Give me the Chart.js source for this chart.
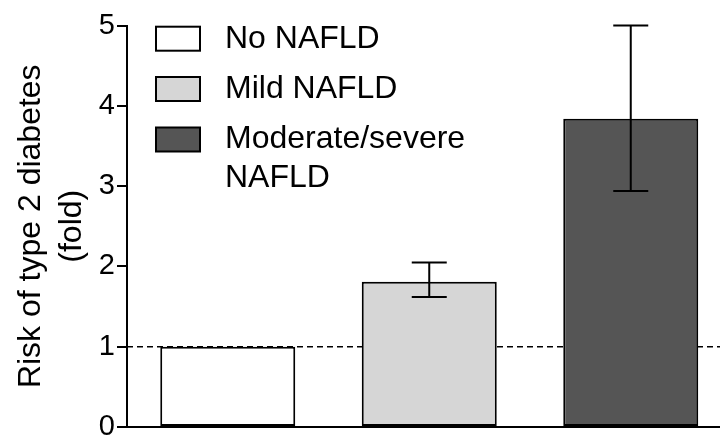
<!DOCTYPE html>
<html lang="en">
<head>
  <meta charset="UTF-8">
  <title>NAFLD and type 2 diabetes risk</title>
  <script src="https://cdn.jsdelivr.net/npm/chart.js"></script>
  <style>
    html, body { margin: 0; padding: 0; background: #fff; overflow: hidden; }
    #wrap { position: absolute; left: 0; top: 0; width: 760px; height: 470px; }
  </style>
</head>
<body>
  <div id="wrap">
    <canvas id="riskChart" width="760" height="470"></canvas>
  </div>

  <script>
    // data
    const groups = ['No NAFLD', 'Mild NAFLD', ['Moderate/severe', 'NAFLD']];
    const risk = [1.0, 1.81, 3.84];
    const errLow = [null, 1.62, 2.94];
    const errHigh = [null, 2.05, 5.0];
    const yTicks = [0, 1, 2, 3, 4, 5];
    const refLine = 1;

    const fills = ['#ffffff', '#d6d6d6', '#555555'];
    const FONT = '"Liberation Sans", Arial, sans-serif';

    // dashed reference line at 1, behind the bars
    const refLinePlugin = {
      id: 'refLine',
      beforeDatasetsDraw(chart) {
        const { ctx, chartArea, scales } = chart;
        const y = scales.y.getPixelForValue(refLine);
        ctx.save();
        ctx.strokeStyle = '#000';
        ctx.lineWidth = 1.6;
        ctx.setLineDash([6, 4]);
        ctx.beginPath();
        ctx.moveTo(chartArea.left, y);
        ctx.lineTo(chartArea.right, y);
        ctx.stroke();
        ctx.restore();
      }
    };

    // error bars with caps
    const errorBarPlugin = {
      id: 'errorBars',
      afterDatasetsDraw(chart) {
        const { ctx, scales } = chart;
        const meta = chart.getDatasetMeta(0);
        ctx.save();
        ctx.strokeStyle = '#000';
        ctx.lineWidth = 2;
        meta.data.forEach((bar, i) => {
          if (errLow[i] == null) return;
          const x = bar.x;
          const yLo = scales.y.getPixelForValue(errLow[i]);
          const yHi = scales.y.getPixelForValue(errHigh[i]);
          ctx.beginPath();
          ctx.moveTo(x, yLo); ctx.lineTo(x, yHi);
          ctx.moveTo(x - 17.5, yHi); ctx.lineTo(x + 17.5, yHi);
          ctx.moveTo(x - 17.5, yLo); ctx.lineTo(x + 17.5, yLo);
          ctx.stroke();
        });
        ctx.restore();
      }
    };

    // legend inside the plot, top left
    const legendPlugin = {
      id: 'insideLegend',
      afterDraw(chart) {
        const { ctx } = chart;
        const rows = [38.7, 89, 139.5];
        ctx.save();
        ctx.font = '32px ' + FONT;
        ctx.textBaseline = 'middle';
        groups.forEach((g, i) => {
          const y = rows[i];
          ctx.fillStyle = fills[i];
          ctx.fillRect(156, y - 12, 44, 24);
          ctx.strokeStyle = '#000';
          ctx.lineWidth = 2;
          ctx.strokeRect(156, y - 12, 44, 24);
          ctx.fillStyle = '#000';
          const lines = Array.isArray(g) ? g : [g];
          lines.forEach((t, k) => ctx.fillText(t, 225, y + k * 38.5));
        });
        ctx.restore();
      }
    };

    new Chart(document.getElementById('riskChart'), {
      type: 'bar',
      data: {
        labels: groups.map(g => Array.isArray(g) ? g.join(' ') : g),
        datasets: [{
          data: risk,
          backgroundColor: fills,
          borderColor: '#000',
          borderWidth: 2,
          borderSkipped: false,
          categoryPercentage: 1,
          barPercentage: 0.67
        }]
      },
      options: {
        responsive: false,
        animation: false,
        layout: { padding: { left: 0, right: 28.5, top: 25.5, bottom: 43 } },
        plugins: { legend: { display: false }, tooltip: { enabled: false } },
        scales: {
          x: {
            grid: { display: false, drawTicks: false },
            ticks: { display: false },
            border: { display: true, color: '#000', width: 2 }
          },
          y: {
            min: 0,
            max: 5,
            afterBuildTicks(scale) { scale.ticks = yTicks.map(v => ({ value: v })); },
            afterFit(scale) { scale.width = 127; },
            grid: { drawOnChartArea: false, drawTicks: true, tickLength: 10, color: '#000', lineWidth: 2 },
            border: { display: true, color: '#000', width: 2 },
            ticks: { color: '#000', padding: 2, font: { family: FONT, size: 29 } },
            title: {
              display: true,
              text: ['Risk of type 2 diabetes', '(fold)'],
              color: '#000',
              padding: { top: 10, bottom: 0 },
              font: { family: FONT, size: 32, lineHeight: 1.3 }
            }
          }
        }
      },
      plugins: [refLinePlugin, errorBarPlugin, legendPlugin]
    });
  </script>
</body>
</html>
